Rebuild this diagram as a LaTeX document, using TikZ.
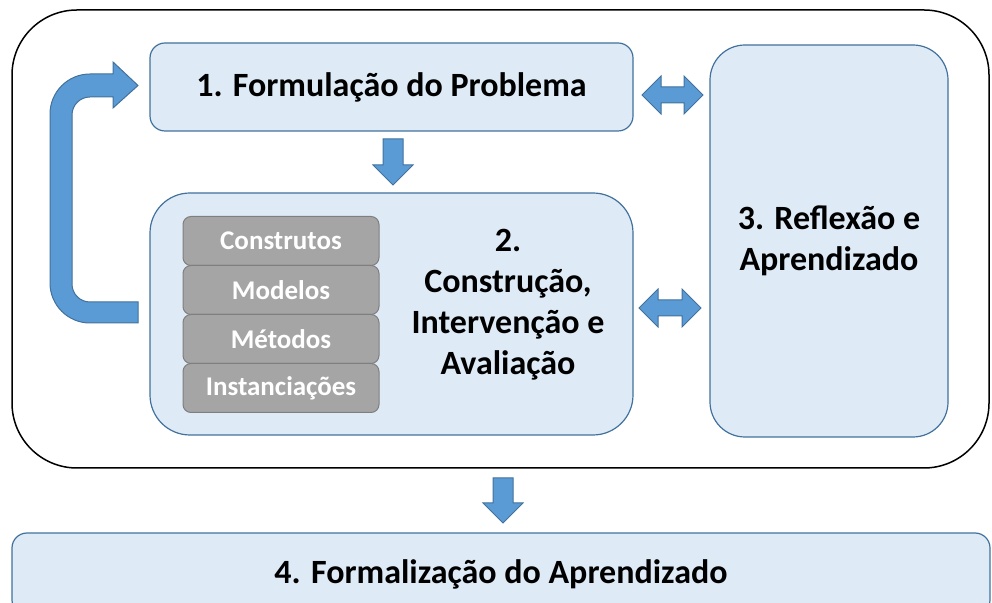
\documentclass[tikz,border=0pt]{standalone}
\usepackage{fontspec}
\setmainfont{Carlito}
\definecolor{boxfill}{HTML}{DEEBF7}
\definecolor{boxline}{HTML}{41719C}
\definecolor{arrowfill}{HTML}{5B9BD5}
\definecolor{grayfill}{HTML}{A5A5A5}
\definecolor{grayline}{HTML}{7F7F7F}
\newcommand\blkdown[3]{% x, ytop, ytip
  \draw[barrow] (#1-10,#2) -- (#1+10,#2) -- (#1+10,#3+20) -- (#1+20,#3+20) -- (#1,#3)
    -- (#1-20,#3+20) -- (#1-10,#3+20) -- cycle;}
\newcommand\blkdouble[3]{% yc, xleft, xright
  \draw[barrow] (#2,#1) -- (#2+19,#1+19) -- (#2+19,#1+8) -- (#3-19,#1+8) -- (#3-19,#1+19)
    -- (#3,#1) -- (#3-19,#1-19) -- (#3-19,#1-8) -- (#2+19,#1-8) -- (#2+19,#1-19) -- cycle;}
\begin{document}
\begin{tikzpicture}[x=1pt,y=1pt,
  bluebox/.style={draw=boxline, fill=boxfill, line width=1.2pt, rectangle, inner sep=0pt},
  graybox/.style={draw=grayline, fill=grayfill, line width=1pt, rectangle, rounded corners=8pt,
    minimum width=196pt, minimum height=49pt, inner sep=0pt, text=white,
    font=\fontsize{27}{30}\selectfont\bfseries},
  title/.style={font=\fontsize{34}{41}\selectfont\bfseries, align=center, text=black},
  barrow/.style={draw=boxline, fill=arrowfill, line width=1pt, line join=miter}
]
\useasboundingbox (0,0) rectangle (992,602);
\clip (0,0) rectangle (992,602);
% outer frame
\node[draw=black, line width=1.5pt, rectangle, rounded corners=65pt, minimum width=977pt,
  minimum height=458pt, inner sep=0pt] (outer) at (500.5,363) {};
% boxes
\node[bluebox, rounded corners=15pt, minimum width=483pt, minimum height=88pt, title]
  (b1) at (391.5,515) {1. Formulação do Problema};
\node[bluebox, rounded corners=40pt, minimum width=483pt, minimum height=242pt] (b2) at (391.5,288) {};
\node[bluebox, rounded corners=35pt, minimum width=238pt, minimum height=392pt, title]
  (b3) at (829,361) {3. Reflexão e\\Aprendizado};
\node[bluebox, rounded corners=15pt, minimum width=978pt, minimum height=82pt, title]
  (b4) at (501,28) {4. Formalização do Aprendizado};
\node[title] (t2) at (508,297) {2.\\Construção,\\Intervenção e\\Avaliação};
% gray stack
\node[graybox] (g1) at (281,361) {Construtos};
\node[graybox] (g2) at (281,312) {Modelos};
\node[graybox] (g3) at (281,263) {Métodos};
\node[graybox] (g4) at (281,214) {Instanciações};
% block arrows
\blkdown{393}{463}{417}
\blkdown{503}{124}{79}
\blkdouble{507}{642}{703}
\blkdouble{294}{639}{701}
% loop arrow
\draw[barrow] (138,279) -- (90,279) arc[start angle=270, end angle=180, radius=40]
  -- (50,488) arc[start angle=180, end angle=90, radius=40]
  -- (113,528) -- (113,540) -- (138,516.5) -- (113,494) -- (113,505) -- (90,505)
  arc[start angle=90, end angle=180, radius=18]
  -- (72,318) arc[start angle=180, end angle=270, radius=18]
  -- (138,300) -- cycle;
\end{tikzpicture}
\end{document}
